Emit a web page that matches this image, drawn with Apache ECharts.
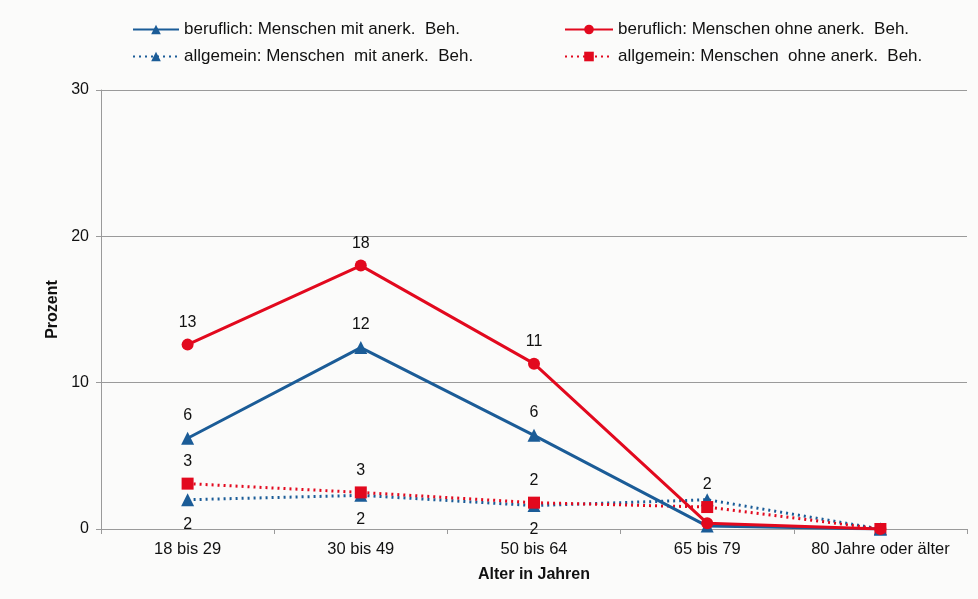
<!DOCTYPE html>
<html>
<head>
<meta charset="utf-8">
<script src="https://cdn.jsdelivr.net/npm/echarts@6/dist/echarts.min.js"></script>
<style>
html,body{margin:0;padding:0;background:#fbfbfa;}
#chart{width:978px;height:599px;}
</style>
</head>
<body>
<div id="chart"></div>
<script>
// Altersgruppen
const categories = ['18 bis 29', '30 bis 49', '50 bis 64', '65 bis 79', '80 Jahre oder älter'];
const yTicks = [0, 10, 20, 30];

// Anteile in Prozent
const berufMit = [6.2, 12.4, 6.4, 0.2, 0];
const berufOhne = [12.6, 18.0, 11.3, 0.4, 0];
const allgMit = [2.0, 2.3, 1.6, 2.0, 0];
const allgOhne = [3.1, 2.5, 1.8, 1.5, 0];

// Welche Werte beschriftet werden
const berufMitShown = [true, true, true, false, false];
const berufOhneShown = [true, true, true, false, false];
const allgMitShown = [true, true, true, true, false];
const allgOhneShown = [true, true, true, false, false];

const names = [
  'beruflich: Menschen mit anerk.  Beh.',
  'beruflich: Menschen ohne anerk.  Beh.',
  'allgemein: Menschen  mit anerk.  Beh.',
  'allgemein: Menschen  ohne anerk.  Beh.'
];

const BLUE = '#1b5c97';
const RED = '#e2091e';
const FONT = 'Liberation Sans, Arial, sans-serif';

function points(values, shown, posFor) {
  return values.map((v, i) => {
    const pos = posFor ? posFor(i) : 'top';
    return {
      value: v,
      label: {
        show: shown[i],
        position: pos === 'topNear' ? 'top' : pos,
        distance: pos === 'bottom' ? 10 : (pos === 'topNear' ? 1 : 8)
      }
    };
  });
}

function series(name, values, shown, color, symbol, symbolSize, dotted, posFor, z) {
  return {
    name: name,
    type: 'line',
    data: points(values, shown, posFor),
    symbol: symbol,
    symbolSize: symbolSize,
    z: z,
    lineStyle: { color: color, width: 3, type: dotted ? [2, 4] : 'solid' },
    itemStyle: { color: color },
    label: {
      color: '#111',
      fontFamily: FONT,
      fontSize: 16,
      formatter: p => String(Math.round(p.value))
    },
    emphasis: { disabled: true }
  };
}

const legendText = { fontFamily: FONT, fontSize: 17, color: '#111' };

const chart = echarts.init(document.getElementById('chart'), null, { renderer: 'canvas' });

chart.setOption({
  animation: false,
  backgroundColor: '#fbfbfa',
  textStyle: { fontFamily: FONT },
  legend: [
    {
      left: 127, top: 16, orient: 'vertical', itemGap: 10,
      itemWidth: 46, itemHeight: 12,
      textStyle: legendText,
      data: [names[0], names[2]]
    },
    {
      left: 559, top: 16, orient: 'vertical', itemGap: 10,
      itemWidth: 48, itemHeight: 12,
      textStyle: legendText,
      data: [names[1], names[3]]
    }
  ],
  grid: { left: 101, right: 11, top: 90, bottom: 70 },
  xAxis: {
    type: 'category',
    data: categories,
    boundaryGap: true,
    name: 'Alter in Jahren',
    nameLocation: 'middle',
    nameGap: 38,
    nameTextStyle: { fontFamily: FONT, fontSize: 16, fontWeight: 'bold', color: '#111' },
    axisLine: { lineStyle: { color: '#9a9a9a', width: 1 } },
    axisTick: { show: true, length: 5, lineStyle: { color: '#9a9a9a' } },
    axisLabel: { interval: 0, fontFamily: FONT, fontSize: 16.5, color: '#111', margin: 12 }
  },
  yAxis: {
    type: 'value',
    min: yTicks[0],
    max: yTicks[yTicks.length - 1],
    interval: 10,
    name: 'Prozent',
    nameLocation: 'middle',
    nameGap: 35,
    nameRotate: 90,
    nameTextStyle: { fontFamily: FONT, fontSize: 16, fontWeight: 'bold', color: '#111' },
    axisLine: { show: true, lineStyle: { color: '#9a9a9a', width: 1 } },
    axisTick: { show: true, length: 5, lineStyle: { color: '#9a9a9a' } },
    axisLabel: { fontFamily: FONT, fontSize: 16, color: '#111', margin: 12 },
    splitLine: { show: true, lineStyle: { color: '#9a9a9a', width: 1 } }
  },
  series: [
    series(names[0], berufMit, berufMitShown, BLUE, 'triangle', 13, false, null, 3),
    series(names[1], berufOhne, berufOhneShown, RED, 'circle', 12, false, null, 4),
    series(names[2], allgMit, allgMitShown, BLUE, 'triangle', 13, true, i => (i === 3 ? 'topNear' : 'bottom'), 2),
    series(names[3], allgOhne, allgOhneShown, RED, 'rect', 12, true, null, 2)
  ]
});
</script>
</body>
</html>
